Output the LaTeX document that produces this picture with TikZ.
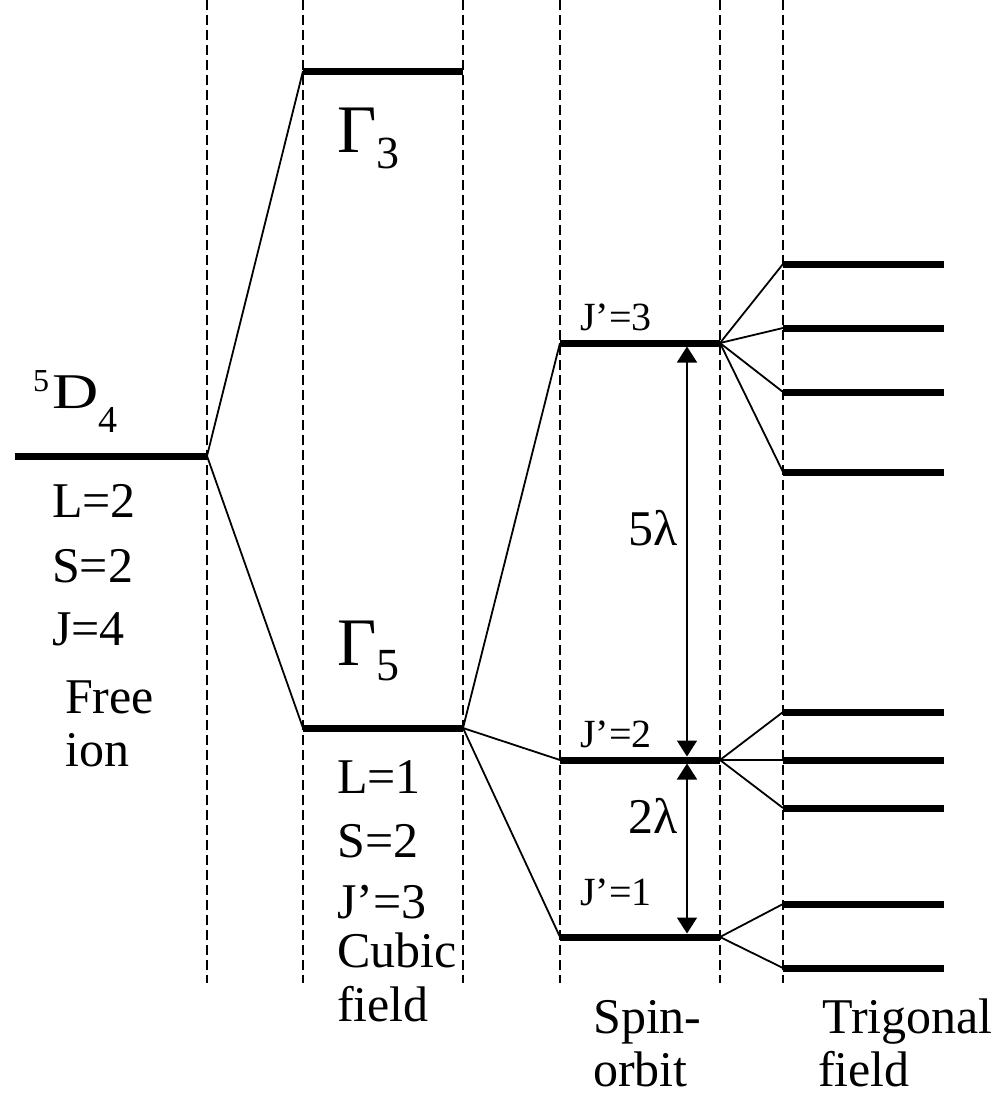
\documentclass[tikz,border=0pt]{standalone}
\usepackage{fontspec}
\usepackage{graphicx}
\setmainfont{Liberation Serif}
\usetikzlibrary{arrows.meta}
\tikzset{
  lvl/.style={line width=7bp},
  conn/.style={line width=1.8bp},
  guide/.style={line width=1.5bp, dash pattern=on 10bp off 5bp},
  lbl/.style={anchor=base west, inner sep=0pt, font=\fontsize{50bp}{60bp}\selectfont},
  slbl/.style={anchor=base west, inner sep=0pt, font=\fontsize{40bp}{48bp}\selectfont},
  gap/.style={line width=1.8bp, {Triangle[width=20bp,length=16bp]}-{Triangle[width=20bp,length=16bp]}, shorten <=3.5bp, shorten >=3.5bp}
}
\begin{document}
\begin{tikzpicture}[x=1bp,y=-1bp]
\useasboundingbox (0,0) rectangle (994,1096);
% guide lines
\foreach \gx [count=\i] in {207,303,463,560,720,783}{
  \coordinate (gt\i) at (\gx,0);
  \coordinate (gb\i) at (\gx,983);
  \draw[guide] (gt\i) -- (gb\i);
}
% level end points
\coordinate (fiL) at (15,456);  \coordinate (fiR) at (207,456);
\coordinate (g3L) at (303,71);  \coordinate (g3R) at (463,71);
\coordinate (g5L) at (303,728); \coordinate (g5R) at (463,728);
\coordinate (j3L) at (560,343); \coordinate (j3R) at (720,343);
\coordinate (j2L) at (560,760); \coordinate (j2R) at (720,760);
\coordinate (j1L) at (560,937); \coordinate (j1R) at (720,937);
\coordinate (j3A) at (687,343); \coordinate (j2A) at (687,760); \coordinate (j1A) at (687,937);
\foreach \ty [count=\k] in {264,328,392,472,712,760,808,904,968}{
  \coordinate (t\k L) at (783,\ty);
  \coordinate (t\k R) at (944,\ty);
  \draw[lvl] (t\k L) -- (t\k R);
}
\draw[lvl] (fiL) -- (fiR);
\draw[lvl] (g3L) -- (g3R);
\draw[lvl] (g5L) -- (g5R);
\draw[lvl] (j3L) -- (j3R);
\draw[lvl] (j2L) -- (j2R);
\draw[lvl] (j1L) -- (j1R);
% connectors
\draw[conn] (fiR) -- (g3L);
\draw[conn] (fiR) -- (g5L);
\draw[conn] (g5R) -- (j3L);
\draw[conn] (g5R) -- (j2L);
\draw[conn] (g5R) -- (j1L);
\foreach \k in {1,2,3,4}{\draw[conn] (j3R) -- (t\k L);}
\foreach \k in {5,6,7}{\draw[conn] (j2R) -- (t\k L);}
\foreach \k in {8,9}{\draw[conn] (j1R) -- (t\k L);}
% gap arrows
\draw[gap] (j3A) -- (j2A);
\draw[gap] (j2A) -- (j1A);
% labels
\node[lbl] (term) at (33,408) {\rlap{\fontsize{32bp}{34bp}\selectfont\raisebox{17bp}{5}}\kern19bp\scalebox{1.28}[1]{D}\kern0bp{\fontsize{38bp}{40bp}\selectfont\raisebox{-24bp}{4}}};
\node[lbl] (l2) at (52,517) {L=2};
\node[lbl] (s2a) at (52,582) {S=2};
\node[lbl] (jj4) at (52,645) {J=4};
\node[lbl] (free) at (65,713) {Free};
\node[lbl] (ion) at (65,766) {ion};
\node[lbl] (gam3) at (337,152) {{\fontsize{68bp}{72bp}\selectfont Γ}{\fontsize{46bp}{48bp}\selectfont\raisebox{-16bp}{3}}};
\node[lbl] (gam5) at (337,665) {{\fontsize{68bp}{72bp}\selectfont Γ}{\fontsize{46bp}{48bp}\selectfont\raisebox{-15bp}{5}}};
\node[lbl] (l1) at (337,793) {L=1};
\node[lbl] (s2b) at (337,857) {S=2};
\node[lbl] (jp3) at (337,918) {J’=3};
\node[lbl] (cubic) at (337,967) {Cubic};
\node[lbl] (field1) at (337,1021) {field};
\node[slbl] (lj3) at (580,330) {J’=3};
\node[slbl] (lj2) at (580,747) {J’=2};
\node[slbl] (lj1) at (580,905) {J’=1};
\node[lbl] (five) at (628,545) {5λ};
\node[lbl] (two) at (628,833) {2λ};
\node[lbl] (spin) at (593,1033) {Spin-};
\node[lbl] (orbit) at (593,1086) {orbit};
\node[lbl] (trig) at (822,1033) {Trigonal};
\node[lbl] (field2) at (818,1086) {field};
\end{tikzpicture}
\end{document}
